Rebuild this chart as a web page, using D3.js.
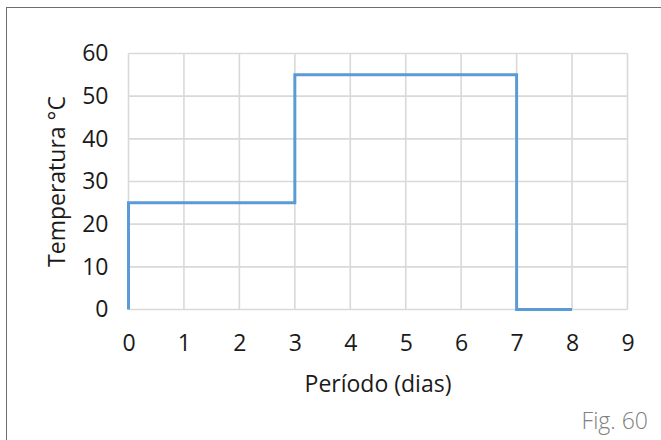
<!DOCTYPE html>
<html><head><meta charset="utf-8">
<script src="https://cdn.jsdelivr.net/npm/d3@7"></script>
<style>body{margin:0;background:#fff}svg{display:block}text{font-family:"Open Sans",sans-serif}</style>
</head><body><svg id="c" width="661" height="440"></svg>
<script>
const stepX = [0, 0, 3, 3, 7, 7, 8];
const stepY = [0, 25, 25, 55, 55, 0, 0];
const xTicks = [0,1,2,3,4,5,6,7,8,9];
const yTicks = [0,10,20,30,40,50,60];
const xTitle = "Período (dias)";
const yTitle = "Temperatura °C";
const figLabel = "Fig. 60";

const svg = d3.select("#c");
svg.append("rect").attr("x",6.5).attr("y",7.5).attr("width",660).attr("height",440)
  .attr("fill","none").attr("stroke","#6e6e6e").attr("stroke-width",1);

const x = d3.scaleLinear().domain([0,9]).range([128.5,627.5]);
const y = d3.scaleLinear().domain([0,60]).range([309.5,53.5]);

const g = svg.append("g");
g.selectAll(".vg").data(xTicks).join("line")
  .attr("x1",d=>x(d)).attr("x2",d=>x(d)).attr("y1",y(0)).attr("y2",y(60))
  .attr("stroke","#d9d9d9").attr("stroke-width",1.6);
g.selectAll(".hg").data(yTicks).join("line")
  .attr("y1",d=>y(d)).attr("y2",d=>y(d)).attr("x1",x(0)).attr("x2",x(9))
  .attr("stroke","#d9d9d9").attr("stroke-width",1.6);

const xAxis = d3.axisBottom(x).tickValues(xTicks).tickSize(0).tickPadding(25);
const ax = svg.append("g").attr("transform",`translate(0,${y(0)})`).call(xAxis);
ax.select(".domain").remove();
ax.selectAll("text").attr("font-size",23).attr("fill","#1a1a1a").attr("font-family","'Open Sans',sans-serif");

const yAxis = d3.axisLeft(y).tickValues(yTicks).tickSize(0).tickPadding(20);
const ay = svg.append("g").attr("transform",`translate(${x(0)},0)`).call(yAxis);
ay.select(".domain").remove();
ay.selectAll("text").attr("font-size",23).attr("fill","#1a1a1a").attr("font-family","'Open Sans',sans-serif");

const pts = stepX.map((v,i)=>[v,stepY[i]]);
svg.append("path").datum(pts)
  .attr("d", d3.line().x(d=>x(d[0])).y(d=>y(d[1])))
  .attr("fill","none").attr("stroke","#5b9bd5").attr("stroke-width",3)
  .attr("stroke-linejoin","miter").attr("stroke-linecap","butt");

svg.append("text").attr("x",(x(0)+x(9))/2).attr("y",392).attr("text-anchor","middle")
  .attr("font-size",23).attr("fill","#1a1a1a").text(xTitle);
svg.append("text").attr("transform",`translate(65,${(y(0)+y(60))/2}) rotate(-90)`)
  .attr("text-anchor","middle").attr("font-size",23).attr("fill","#1a1a1a").text(yTitle);
svg.append("text").attr("x",648).attr("y",429).attr("text-anchor","end")
  .attr("font-size",23).attr("font-weight",300).attr("fill","#808080").text(figLabel);
</script></body></html>
